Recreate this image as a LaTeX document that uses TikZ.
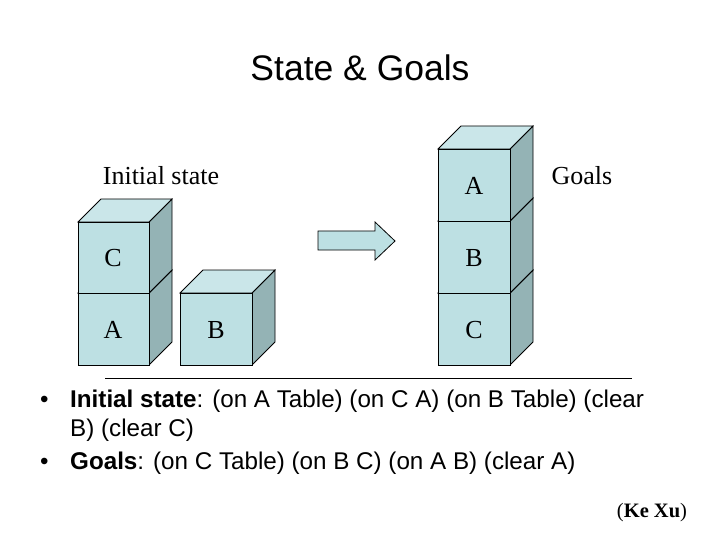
\documentclass[tikz,border=0pt]{standalone}
\usepackage{fontspec}
\setmainfont{Liberation Serif}
\setsansfont{Liberation Sans}
\definecolor{fr}{HTML}{BDE0E3}
\definecolor{tp}{HTML}{CAE6E9}
\definecolor{sd}{HTML}{94B3B5}
\begin{document}
\begin{tikzpicture}[x=1pt,y=-1pt,
  lbl/.style={font=\fontsize{26}{30}\selectfont},
  bul/.style={font=\sffamily\fontsize{24.2}{28}\selectfont,anchor=base west,inner sep=0}]
\useasboundingbox (0,0) rectangle (720,540);
\newcommand{\cube}[5]{% x1 x2 ytop ybot name
  \fill[sd,draw=black,line width=0.8pt] (#2,#3) -- ++(23,-23) -- ++(0,#4-#3) -- (#2,#4) -- cycle;
  \fill[tp,draw=black,line width=0.8pt] (#1,#3) -- ++(23,-23) -- ++(#2-#1,0) -- (#2,#3) -- cycle;
  \node[fill=fr,draw=black,line width=0.8pt,minimum width=#2-#1,minimum height=#4-#3,inner sep=0,anchor=north west,lbl] (#5) at (#1,#3) {};
}
\cube{78}{149}{293}{365}{a1}
\cube{78}{149}{222}{293}{c1}
\cube{180}{252}{293}{365}{b1}
\cube{438}{510}{293}{365}{c2}
\cube{438}{510}{221}{293}{b2}
\cube{438}{510}{149}{221}{a2}
\node[lbl] at (113,330) {A};
\node[lbl] at (113,258) {C};
\node[lbl] at (216,330) {B};
\node[lbl] at (474,330) {C};
\node[lbl] at (474,258) {B};
\node[lbl] at (474,186) {A};
\fill[fr,draw=black,line width=0.8pt] (318,231) -- (375,231) -- (375,222) -- (395,241) -- (375,260) -- (375,250) -- (318,250) -- cycle;
\node[font=\sffamily\fontsize{35.5}{40}\selectfont] (t) at (360,68) {State \& Goals};
\node[lbl] (is) at (161,176) {Initial state};
\node[lbl] (g) at (582,176) {Goals};
\draw[line width=1pt] (105,378) -- (632,378);
\node[bul] at (40,407) {•};
\node[bul] at (70,407) {\textbf{Initial state}: (on A Table) (on C A) (on B Table) (clear};
\node[bul] at (70,436) {B) (clear C)};
\node[bul] at (40,469) {•};
\node[bul] at (70,469) {\textbf{Goals}: (on C Table) (on B C) (on A B) (clear A)};
\node[font=\fontsize{20.5}{24}\selectfont] at (652,513) {(\textbf{Ke Xu})};
\end{tikzpicture}
\end{document}
